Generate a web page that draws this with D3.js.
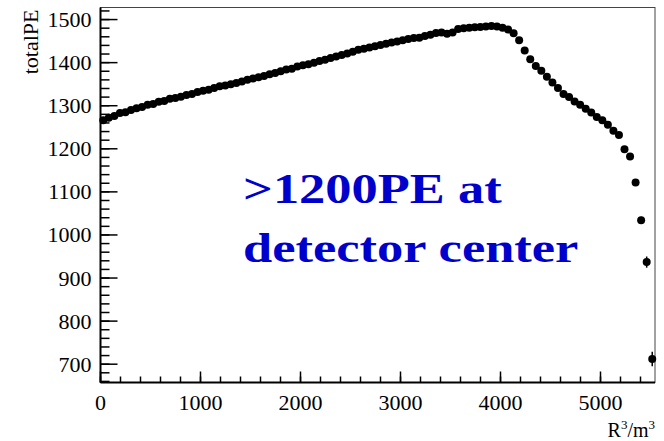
<!DOCTYPE html>
<html>
<head>
<meta charset="utf-8">
<script src="https://cdn.jsdelivr.net/npm/d3@7/dist/d3.min.js"></script>
<style>
	html, body { margin: 0; padding: 0; background: #fff; }
	svg { display: block; }
	text { font-family: "Liberation Serif", "Times New Roman", serif; }
</style>
</head>
<body>
<div id="chart"></div>
<script>
// histogram binning (R^3 in m^3)
var binLow = 0,
	binHigh = 5545,
	nBins = 100;
// totalPE per bin
var totalPE = [
	1266, 1272, 1276, 1283, 1285, 1290, 1294, 1297, 1302, 1304,
	1309, 1311, 1316, 1318, 1321, 1325, 1327, 1332, 1335, 1337,
	1341, 1345, 1347, 1350, 1353, 1356, 1360, 1363, 1366, 1369,
	1373, 1376, 1380, 1384, 1386, 1391, 1394, 1396, 1400, 1404,
	1407, 1411, 1414, 1418, 1421, 1425, 1430, 1432, 1435, 1438,
	1441, 1444, 1447, 1449, 1452, 1455, 1457, 1458, 1462, 1465,
	1469, 1470, 1467, 1470, 1478, 1480, 1481, 1482, 1483, 1484,
	1485, 1484, 1481, 1477, 1468, 1452, 1428, 1408, 1392, 1381,
	1367, 1354, 1341, 1327, 1320, 1310, 1302, 1293, 1284, 1274,
	1266, 1256, 1242, 1232, 1199, 1182, 1122, 1034, 937, 712
];
var totalPEErr = [
	3, 3, 3, 3, 3, 3, 3, 3, 3, 3,
	3, 3, 3, 3, 3, 3, 3, 3, 3, 3,
	3, 3, 3, 3, 3, 3, 3, 3, 3, 3,
	3, 3, 3, 3, 3, 3, 3, 3, 3, 3,
	3, 3, 3, 3, 3, 3, 3, 3, 3, 3,
	3, 3, 3, 3, 3, 3, 3, 3, 3, 3,
	3, 3, 3, 3, 3, 3, 3, 3, 3, 3,
	3, 3, 3, 3, 3, 3, 3, 3, 3, 3,
	3, 3, 3, 3, 3, 3, 3, 3, 3, 4,
	4, 4, 4, 4, 5, 5, 6, 8, 13, 17
];
var xTicks = [0, 1000, 2000, 3000, 4000, 5000],
	yTicks = [700, 800, 900, 1000, 1100, 1200, 1300, 1400, 1500];
var xTitle = ["R", "3", "/m", "3"],
	yTitle = "totalPE",
	note = [">1200PE at", "detector center"];

;(function(d3){
	var width = 664,
		height = 441,
		left = 100.5,
		right = 655,
		top = 7.5,
		bottom = 382.5;

	var svg = d3.select("#chart").append("svg")
		.attr("width", width)
		.attr("height", height);

	var x = d3.scaleLinear().domain([binLow, binHigh]).range([left, right]),
		y = d3.scaleLinear().domain([657.5, 1528]).range([bottom, top]);

	var binW = (binHigh - binLow) / nBins;
	var points = totalPE.map(function(v, i){
		return {x: binLow + (i + 0.5) * binW, y: v, e: totalPEErr[i]};
	});

	/*************frame*************/
	svg.append("rect")
		.attr("x", left)
		.attr("y", top)
		.attr("width", right - left)
		.attr("height", bottom - top)
		.attr("fill", "none")
		.attr("stroke", "#444")
		.attr("stroke-width", 1);

	// y axis, ticks pointing into the frame (ROOT style)
	var yMinor = d3.range(660, 1528, 20);
	var gy = svg.append("g").attr("class", "y-axis");
	gy.selectAll("line.minor").data(yMinor).enter().append("line")
		.attr("class", "minor")
		.attr("x1", left).attr("x2", left + 9)
		.attr("y1", function(d){ return y(d); })
		.attr("y2", function(d){ return y(d); })
		.attr("stroke", "#000").attr("stroke-width", 1.5);
	gy.selectAll("line.major").data(yTicks).enter().append("line")
		.attr("class", "major")
		.attr("x1", left).attr("x2", left + 17)
		.attr("y1", function(d){ return y(d); })
		.attr("y2", function(d){ return y(d); })
		.attr("stroke", "#000").attr("stroke-width", 1.5);
	gy.selectAll("text").data(yTicks).enter().append("text")
		.attr("x", left - 9)
		.attr("y", function(d){ return y(d); })
		.attr("dy", "0.34em")
		.attr("text-anchor", "end")
		.attr("font-size", 22)
		.attr("fill", "#000")
		.text(function(d){ return d; });
	gy.append("line")
		.attr("x1", left).attr("x2", left)
		.attr("y1", top).attr("y2", bottom)
		.attr("stroke", "#000").attr("stroke-width", 2);

	// x axis
	var xMinor = d3.range(0, 5545, 200);
	var gx = svg.append("g").attr("class", "x-axis");
	gx.selectAll("line.minor").data(xMinor).enter().append("line")
		.attr("class", "minor")
		.attr("x1", function(d){ return x(d); })
		.attr("x2", function(d){ return x(d); })
		.attr("y1", bottom).attr("y2", bottom - 6)
		.attr("stroke", "#000").attr("stroke-width", 1.5);
	gx.selectAll("line.major").data(xTicks).enter().append("line")
		.attr("class", "major")
		.attr("x1", function(d){ return x(d); })
		.attr("x2", function(d){ return x(d); })
		.attr("y1", bottom).attr("y2", bottom - 11)
		.attr("stroke", "#000").attr("stroke-width", 1.5);
	gx.selectAll("text").data(xTicks).enter().append("text")
		.attr("x", function(d){ return x(d); })
		.attr("y", 410)
		.attr("text-anchor", "middle")
		.attr("font-size", 22)
		.attr("fill", "#000")
		.text(function(d){ return d; });
	gx.append("line")
		.attr("x1", left).attr("x2", right)
		.attr("y1", bottom).attr("y2", bottom)
		.attr("stroke", "#000").attr("stroke-width", 2);

	/*************titles*************/
	var xt = svg.append("text")
		.attr("x", right)
		.attr("y", 437)
		.attr("text-anchor", "end")
		.attr("font-size", 20)
		.attr("fill", "#000");
	xTitle.forEach(function(s, i){
		var sup = i % 2 == 1;
		xt.append("tspan")
			.attr("font-size", sup ? 13 : 20)
			.attr("dy", sup ? -8 : (i > 0 ? 8 : 0))
			.text(s);
	});
	svg.append("text")
		.attr("transform", "translate(38," + (top + 2) + ") rotate(-90)")
		.attr("text-anchor", "end")
		.attr("font-size", 22)
		.attr("fill", "#000")
		.text(yTitle);

	/*************data*************/
	var gd = svg.append("g").attr("class", "x-points");
	gd.selectAll("line").data(points).enter().append("line")
		.attr("x1", function(d){ return x(d.x); })
		.attr("x2", function(d){ return x(d.x); })
		.attr("y1", function(d){ return y(d.y - d.e); })
		.attr("y2", function(d){ return y(d.y + d.e); })
		.attr("stroke", "#000").attr("stroke-width", 1.5);
	gd.selectAll("circle").data(points).enter().append("circle")
		.attr("cx", function(d){ return x(d.x); })
		.attr("cy", function(d){ return y(d.y); })
		.attr("r", 4)
		.attr("fill", "#000");

	/*************annotation*************/
	note.forEach(function(s, i){
		svg.append("text")
			.attr("transform", "translate(243," + (203 + i * 59) + ") scale(1.22,1)")
			.attr("font-size", 43)
			.attr("font-weight", "bold")
			.attr("fill", "#0000cc")
			.text(s);
	});
})(d3);
</script>
</body>
</html>
